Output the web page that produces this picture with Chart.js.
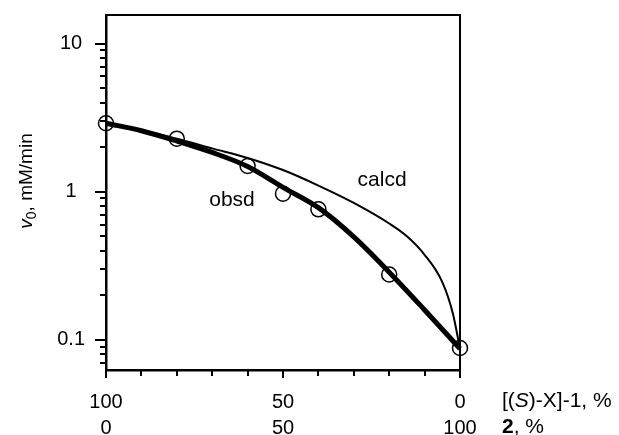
<!DOCTYPE html>
<html>
<head>
<meta charset="utf-8">
<script src="https://cdn.jsdelivr.net/npm/chart.js@4"></script>
<style>
  body { margin: 0; background: #fff; }
  canvas { display: block; }
</style>
</head>
<body>
<canvas id="rate-chart" width="619" height="435"></canvas>
<script>
// x = [(S)-X]-1 content, % (axis runs 100 -> 0)
const pointX = [100, 80, 60, 50, 40, 20, 0];
const pointY = [2.9, 2.28, 1.49, 0.97, 0.76, 0.276, 0.088];

const obsdX = [100, 90, 80, 70, 60, 50, 40, 30, 20, 10, 0];
const obsdY = [2.9, 2.58, 2.2, 1.84, 1.48, 1.07, 0.78, 0.495, 0.286, 0.159, 0.087];

const calcdX = [100, 90, 80, 70, 60, 50, 40, 30, 20, 15, 10, 5, 2, 0];
const calcdY = [2.9, 2.6, 2.28, 1.96, 1.69, 1.4, 1.1, 0.84, 0.61, 0.5, 0.375, 0.245, 0.15, 0.087];

const yTickValues = [0.1, 1, 10];
const yTickLabels = ['0.1', '1', '10'];
const xTickValues = [100, 50, 0];
const xTickLabelsTop = ['100', '50', '0'];
const xTickLabelsBottom = ['0', '50', '100'];

const noteTexts = ['obsd', 'calcd'];
const noteX = [64.4, 22];
const noteY = [0.88, 1.19];

const FONT = '"Liberation Sans", Arial, Helvetica, sans-serif';

const toXY = (xs, ys) => xs.map((x, i) => ({ x, y: ys[i] }));

const decorations = {
  id: 'decorations',
  afterDraw(chart) {
    const { ctx, chartArea: a, scales: { x, y } } = chart;
    ctx.save();
    ctx.strokeStyle = '#000';
    ctx.fillStyle = '#000';

    // top and right edges of the box
    ctx.lineWidth = 2;
    ctx.beginPath();
    ctx.moveTo(a.left - 1, a.top);
    ctx.lineTo(a.right, a.top);
    ctx.lineTo(a.right, a.bottom + 1);
    ctx.stroke();

    // y tick marks (outside, majors longer)
    y.ticks.forEach(t => {
      const py = Math.round(y.getPixelForValue(t.value));
      const major = yTickValues.some(v => Math.abs(v / t.value - 1) < 1e-6);
      ctx.beginPath();
      ctx.moveTo(a.left, py);
      ctx.lineTo(a.left - (major ? 11 : 6), py);
      ctx.stroke();
    });

    // x tick marks (downwards)
    x.ticks.forEach(t => {
      const px = Math.round(x.getPixelForValue(t.value));
      const major = xTickValues.includes(t.value);
      ctx.beginPath();
      ctx.moveTo(px, a.bottom);
      ctx.lineTo(px, a.bottom + (major ? 8 : 6));
      ctx.stroke();
    });

    // curve labels
    ctx.font = '21px ' + FONT;
    ctx.textAlign = 'center';
    ctx.textBaseline = 'middle';
    noteTexts.forEach((txt, i) => {
      ctx.fillText(txt, x.getPixelForValue(noteX[i]), y.getPixelForValue(noteY[i]));
    });

    // axis titles at the right of the tick rows
    const tx = a.right + 42;
    ctx.textAlign = 'left';
    ctx.textBaseline = 'middle';
    let cx = tx;
    const row1 = [['[(', '21px '], ['S', 'italic 21px '], [')-X]-1, %', '21px ']];
    row1.forEach(([s, f]) => {
      ctx.font = f + FONT;
      ctx.fillText(s, cx, 401);
      cx += ctx.measureText(s).width;
    });
    cx = tx;
    const row2 = [['2', 'bold 21px '], [', %', '21px ']];
    row2.forEach(([s, f]) => {
      ctx.font = f + FONT;
      ctx.fillText(s, cx, 427);
      cx += ctx.measureText(s).width;
    });

    // y title: v0, mM/min
    ctx.textBaseline = 'alphabetic';
    ctx.translate(32, 181);
    ctx.rotate(-Math.PI / 2);
    const parts = [['v', 'italic 19px ', 0], ['0', '14px ', 4], [', mM/min', '19px ', 0]];
    let total = 0;
    parts.forEach(([s, f]) => { ctx.font = f + FONT; total += ctx.measureText(s).width; });
    let ox = -total / 2;
    parts.forEach(([s, f, dy]) => {
      ctx.font = f + FONT;
      ctx.fillText(s, ox, dy);
      ox += ctx.measureText(s).width;
    });
    ctx.restore();
  }
};

new Chart(document.getElementById('rate-chart'), {
  type: 'scatter',
  data: {
    datasets: [
      {
        label: 'calcd',
        data: toXY(calcdX, calcdY),
        showLine: true,
        borderColor: '#000',
        borderWidth: 2,
        pointRadius: 0,
        cubicInterpolationMode: 'monotone',
        order: 2
      },
      {
        label: 'obsd',
        data: toXY(obsdX, obsdY),
        showLine: true,
        borderColor: '#000',
        borderWidth: 5,
        pointRadius: 0,
        cubicInterpolationMode: 'monotone',
        order: 1
      },
      {
        label: 'data',
        data: toXY(pointX, pointY),
        showLine: false,
        pointRadius: 7.5,
        pointBorderWidth: 1.5,
        pointBorderColor: '#000',
        pointBackgroundColor: 'rgba(0,0,0,0)',
        order: 3
      }
    ]
  },
  options: {
    responsive: false,
    animation: false,
    clip: false,
    layout: { padding: { top: 15, right: 159, left: 0, bottom: 0 } },
    plugins: { legend: { display: false }, tooltip: { enabled: false } },
    scales: {
      x: {
        type: 'linear',
        reverse: true,
        min: 0,
        max: 100,
        afterFit: s => { s.height = 65; s.paddingLeft = 0; s.paddingRight = 0; },
        afterBuildTicks: s => {
          s.ticks = [];
          for (let v = 0; v <= 100; v += 10) s.ticks.push({ value: v });
        },
        grid: { display: false, drawTicks: true, tickLength: 8 },
        border: { display: true, color: '#000', width: 2.5 },
        ticks: {
          autoSkip: false,
          maxRotation: 0,
          padding: 11,
          color: '#000',
          font: { family: FONT, size: 20, lineHeight: 1.3 },
          callback: v => {
            const i = xTickValues.indexOf(v);
            return i < 0 ? '' : [xTickLabelsTop[i], xTickLabelsBottom[i]];
          }
        }
      },
      y: {
        type: 'logarithmic',
        min: 0.0625,
        max: 15.6,
        afterFit: s => { s.width = 106; s.paddingTop = 0; s.paddingBottom = 0; },
        afterBuildTicks: s => {
          s.ticks = [];
          for (let e = -2; e <= 1; e++) {
            for (let m = 1; m <= 9; m++) {
              const v = m * Math.pow(10, e);
              if (v >= s.min && v <= s.max) s.ticks.push({ value: v });
            }
          }
        },
        grid: { display: false, drawTicks: true, tickLength: 8 },
        border: { display: true, color: '#000', width: 2.5 },
        ticks: {
          autoSkip: false,
          crossAlign: 'center',
          padding: 13,
          color: '#000',
          font: { family: FONT, size: 20 },
          callback: v => {
            const i = yTickValues.findIndex(t => Math.abs(t / v - 1) < 1e-6);
            return i < 0 ? '' : yTickLabels[i];
          }
        }
      }
    }
  },
  plugins: [decorations]
});
</script>
</body>
</html>
